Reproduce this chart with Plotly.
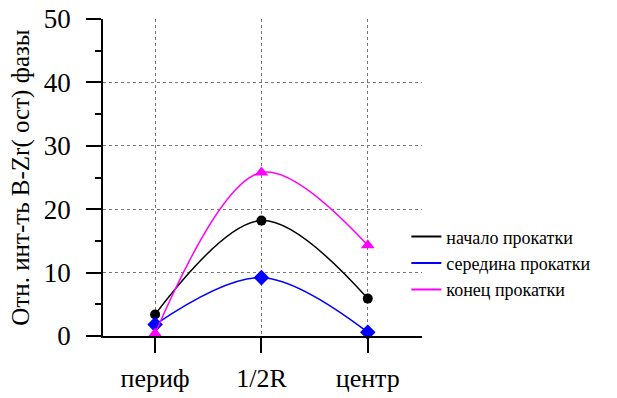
import plotly.graph_objects as go

categories = ["периф", "1/2R", "центр"]
x_pos = [0, 1, 2]
start_vals = [3.4, 18.2, 5.9]
middle_vals = [1.8, 9.2, 0.6]
end_vals = [0.4, 25.8, 14.3]
series_names = ["начало прокатки", "середина прокатки", "конец прокатки"]
y_ticks = [0, 10, 20, 30, 40, 50]

colors = ["#000000", "#0000ff", "#ff00ff"]
symbols = ["circle", "diamond", "triangle-up"]
sizes = [10, 12, 12]
FONT = "Liberation Serif, Times New Roman, serif"

fig = go.Figure()
for vals, name, c, s, sz in zip([start_vals, middle_vals, end_vals], series_names, colors, symbols, sizes):
    fig.add_trace(go.Scatter(
        x=x_pos, y=vals, mode="lines+markers", name=name, showlegend=False,
        line=dict(color=c, width=1.5, shape="spline", smoothing=1.0),
        marker=dict(color=c, symbol=s, size=sz), cliponaxis=False,
    ))
for name, c in zip(series_names, colors):
    fig.add_trace(go.Scatter(
        x=[None], y=[None], mode="lines", name=name,
        line=dict(color=c, width=2),
    ))

fig.update_layout(
    width=617, height=398,
    margin=dict(l=103, r=195, t=19, b=62),
    paper_bgcolor="white", plot_bgcolor="white",
    font=dict(family=FONT, color="black"),
    showlegend=True,
    legend=dict(x=0.951, y=0.371, xanchor="left", yanchor="top",
                font=dict(family=FONT, size=18, color="black"),
                bgcolor="rgba(0,0,0,0)", tracegroupgap=0),
    xaxis=dict(
        range=[-0.49, 2.51], tickmode="array", tickvals=x_pos, ticktext=categories,
        showline=True, linecolor="black", linewidth=1.5,
        ticks="outside", ticklen=15, tickwidth=1.5, tickcolor="black",
        tickfont=dict(family=FONT, size=26), ticklabelstandoff=3,
        showgrid=True, gridcolor="#777777", griddash="dot", gridwidth=1,
        zeroline=False, automargin=False,
    ),
    yaxis=dict(
        range=[0, 50], tickmode="array", tickvals=y_ticks,
        showline=True, linecolor="black", linewidth=1.5,
        ticks="outside", ticklen=15, tickwidth=1.5, tickcolor="black",
        tickfont=dict(family=FONT, size=27), ticklabelstandoff=10,
        showgrid=True, gridcolor="#777777", griddash="dot", gridwidth=1,
        zeroline=False, automargin=False,
        minor=dict(dtick=5, tick0=0, ticks="outside", ticklen=6, tickwidth=1.5, tickcolor="black", showgrid=False),
        title=dict(text="Отн. инт-ть B-Zr( ост) фазы", font=dict(family=FONT, size=25), standoff=7),
    ),
)

fig.write_html("out.html")
